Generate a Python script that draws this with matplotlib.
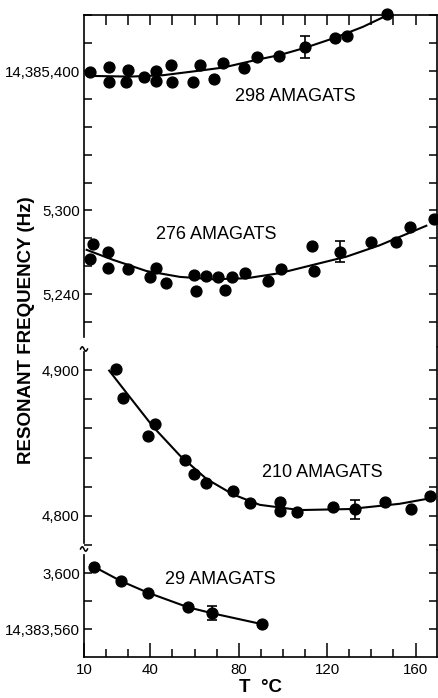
import numpy as np
import matplotlib
matplotlib.use("Agg")
import matplotlib.pyplot as plt
from matplotlib.lines import Line2D

plt.rcParams['font.family'] = ['Liberation Sans', 'DejaVu Sans']

# frequencies are given in Hz above 14,380,000 Hz (axis labels abbreviate them)

# 298 amagats
t_298 = [12.7, 21.4, 21.4, 28.8, 30.0, 37.2, 42.8, 42.8, 49.3, 49.9, 59.4,
         62.7, 68.9, 72.9, 82.4, 88.4, 98.3, 109.9, 123.7, 129.2, 147.2]
f_298 = [5399, 5403, 5392, 5392, 5401, 5396, 5400, 5393, 5404, 5392, 5392,
         5404, 5394, 5405.5, 5402, 5410, 5411, 5417, 5424, 5425, 5441]
fit_t_298 = [13, 30.8, 45.8, 60.9, 73, 88, 98.6, 109.9, 122.7, 136.2, 147.2]
fit_f_298 = [5396.5, 5396, 5397, 5400, 5402.5, 5408, 5411.5, 5416.6, 5423.4, 5431.7, 5440]
err_298 = (109.9, 5417, 8)

# 276 amagats
t_276 = [12.7, 14.2, 21.0, 20.7, 29.7, 39.8, 42.8, 47.3, 59.8, 60.5, 65.4, 70.7,
         73.7, 77.0, 82.8, 93.3, 99.3, 113.2, 114.1, 126.0, 139.7, 151.3, 157.3, 168.3]
f_276 = [5265, 5276, 5270, 5259, 5257.8, 5252.5, 5259, 5248, 5253.7, 5242.4, 5253, 5252.5,
         5243, 5252.5, 5255, 5249.6, 5258, 5274.5, 5256.8, 5270.4, 5277, 5277, 5288.4, 5294]
fit_t_276 = [11.2, 23.2, 38.3, 53.4, 68.4, 83.5, 98.6, 113.6, 128.7, 143.8, 164.9]
fit_f_276 = [5271.7, 5264.5, 5256.5, 5252.3, 5250.6, 5251.3, 5255, 5260.9, 5266.8, 5275, 5289]
err_276 = (126.0, 5270.4, 7.5)

# 210 amagats
t_210 = [24.5, 27.5, 39.1, 42.1, 55.9, 59.7, 65.0, 77.5, 85.3, 98.6, 98.6,
         106.6, 122.7, 132.5, 146.3, 157.8, 166.4]
f_210 = [4901, 4880.7, 4854.5, 4862.8, 4838.6, 4828.8, 4822.6, 4817, 4808.7, 4809.5, 4803.3,
         4802.4, 4806.4, 4804.5, 4809.3, 4804.7, 4813.6]
fit_t_210 = [21.4, 30.8, 41.3, 53.4, 65.4, 77.5, 89.5, 107.6, 130.2, 152.8, 167.8]
fit_f_210 = [4899.7, 4881.4, 4861.1, 4841.4, 4825.4, 4814.7, 4807.6, 4804, 4804.7, 4808.3, 4812.4]
err_210 = (132.5, 4804.5, 6.5)

# 29 amagats
t_29 = [14.5, 26.6, 38.8, 57.1, 68.1, 90.7]
f_29 = [3604.7, 3594.5, 3586.2, 3575.7, 3571.4, 3563.6]
err_29 = (68.1, 3571.4, 5)

W_PX, H_PX = 438, 698
LEFT, RIGHT = 84, 436.5

fig = plt.figure(figsize=(W_PX / 100, H_PX / 100), dpi=100)


def panel(top_px, bot_px, ylim):
    ax = fig.add_axes([LEFT / W_PX, 1 - bot_px / H_PX,
                       (RIGHT - LEFT) / W_PX, (bot_px - top_px) / H_PX])
    ax.set_xlim(10, 169.5)
    ax.set_ylim(*ylim)
    for s in ax.spines.values():
        s.set_linewidth(1.2)
    ax.tick_params(axis='y', direction='in', length=6, width=1.1,
                   left=True, right=True, labelsize=10.8, pad=3)
    return ax


ax_top = panel(15, 347, (5202, 5440.2))
ax_mid = panel(347, 550, (4776.6, 4915.9))
ax_bot = panel(550, 657, (3540.2, 3616.6))

ylabels = {5240: '5,240', 5300: '5,300', 5400: '14,385,400',
           4800: '4,800', 4900: '4,900',
           3560: '14,383,560', 3600: '3,600'}
for ax, ticks in [(ax_top, np.arange(5220, 5441, 20)),
                  (ax_mid, np.arange(4780, 4901, 20)),
                  (ax_bot, np.arange(3560, 3601, 20))]:
    ax.set_yticks(ticks)
    ax.set_yticklabels([ylabels.get(int(v), '') for v in ticks])

# spines between panels
ax_top.spines['bottom'].set_visible(False)
ax_mid.spines['top'].set_visible(False)
ax_mid.spines['bottom'].set_visible(False)
ax_bot.spines['top'].set_visible(False)
ax_top.spines['left'].set_bounds(5209, 5440.2)
ax_mid.spines['left'].set_bounds(4781.6, 4912.5)
ax_bot.spines['left'].set_bounds(3540.2, 3613)

# x ticks
ax_top.tick_params(axis='x', direction='in', top=True, bottom=False,
                   labeltop=False, labelbottom=False, length=7, width=1.1)
ax_top.set_xticks(np.arange(20, 161, 10))
ax_mid.tick_params(axis='x', top=False, bottom=False, labelbottom=False)
ax_bot.set_xticks([10, 40, 80, 120, 160])
ax_bot.set_xticks(np.arange(10, 170, 10), minor=True)
ax_bot.tick_params(axis='x', which='major', direction='in', length=10, width=1.1,
                   top=False, labelsize=10.8, pad=4)
ax_bot.tick_params(axis='x', which='minor', direction='in', length=6, width=1.1, top=False)

# break marks on the left axis
for yb in (349, 549):
    xs = LEFT + np.linspace(-3.5, 3.5, 20)
    ys = yb + 2.2 * np.sin(np.linspace(-np.pi, np.pi, 20))
    fig.add_artist(Line2D(xs / W_PX, 1 - ys / H_PX, transform=fig.transFigure,
                          color='k', lw=1.1))

mk = dict(marker='o', ls='none', ms=7.8, color='k', clip_on=False, zorder=3)
eb = dict(fmt='none', ecolor='k', capsize=3.5, elinewidth=1.2, capthick=1.2)

ax_top.plot(fit_t_298, fit_f_298, color='k', lw=1.5)
ax_top.plot(t_298, f_298, **mk)
ax_top.errorbar(err_298[0], err_298[1], yerr=err_298[2], **eb)
ax_top.text(105.8, 5382, '298 AMAGATS', ha='center', va='center', fontsize=13)

ax_top.plot(fit_t_276, fit_f_276, color='k', lw=1.5)
ax_top.plot(t_276, f_276, **mk)
ax_top.errorbar(err_276[0], err_276[1], yerr=err_276[2], **eb)
ax_top.text(70, 5282.7, '276 AMAGATS', ha='center', va='center', fontsize=13)

ax_mid.plot(fit_t_210, fit_f_210, color='k', lw=1.5)
ax_mid.plot(t_210, f_210, **mk)
ax_mid.errorbar(err_210[0], err_210[1], yerr=err_210[2], **eb)
ax_mid.text(117.9, 4830, '210 AMAGATS', ha='center', va='center', fontsize=13)

ax_bot.plot(t_29, f_29, color='k', lw=1.5)
ax_bot.plot(t_29, f_29, **mk)
ax_bot.errorbar(err_29[0], err_29[1], yerr=err_29[2], **eb)
ax_bot.text(71.9, 3595.7, '29 AMAGATS', ha='center', va='center', fontsize=13)

ax_bot.set_xlabel('T  °C', fontsize=13.5, fontweight='bold', labelpad=2)
fig.text(27 / W_PX, 1 - 330 / H_PX, 'RESONANT FREQUENCY (Hz)', rotation=90,
         ha='center', va='center', fontsize=13.5, fontweight='bold')

fig.savefig('out.png', dpi=100)
